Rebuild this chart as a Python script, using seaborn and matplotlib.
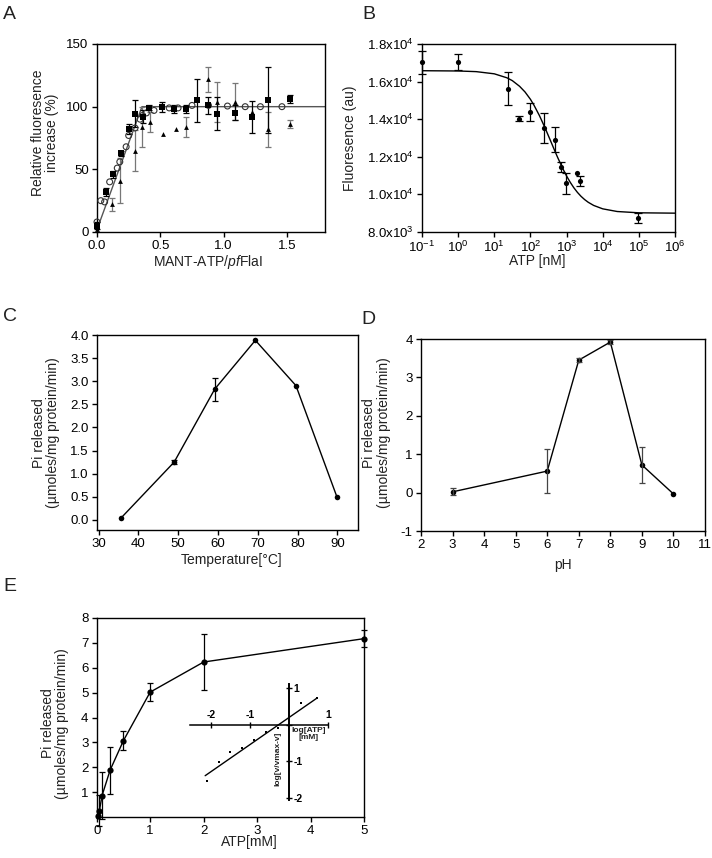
import numpy as np
import seaborn as sns
import matplotlib.pyplot as plt
from matplotlib.ticker import NullLocator

# ---- panel A : MANT-ATP titration (three runs + fit)
a_sq_x = [0.0, 0.07, 0.13, 0.19, 0.25, 0.30, 0.36, 0.41, 0.51, 0.61, 0.70, 0.79, 0.88, 0.95, 1.09, 1.22, 1.35, 1.52]
a_sq_y = [5, 32, 46, 63, 82, 94.5, 92, 99, 99.5, 98.2, 98.2, 105, 101, 94.5, 95.2, 91.8, 105.3, 106]
a_sq_e = [3, 3, 3, 2, 4, 11, 5, 2, 4, 3, 3, 17, 7, 13, 6, 13, 26, 3]

a_tri_x = [0.0, 0.12, 0.18, 0.30, 0.355, 0.42, 0.52, 0.62, 0.70, 0.88, 0.95, 1.09, 1.22, 1.35, 1.52]
a_tri_y = [2, 22, 41, 65, 84, 88, 78.5, 82, 84, 122, 104, 104, 96, 82, 86]
a_tri_e = [0, 5, 18, 16, 16, 8, 0, 0, 8, 10, 16, 15, 0, 14, 3]

a_circ_x = [0.0, 0.03, 0.06, 0.10, 0.16, 0.18, 0.23, 0.25, 0.30, 0.34, 0.36, 0.39, 0.45,
            0.57, 0.64, 0.75, 0.88, 1.03, 1.17, 1.29, 1.46]
a_circ_y = [8, 25, 24, 40, 51, 56, 68, 77, 83, 90, 93, 95, 97, 99, 99, 101, 101, 100.5, 100, 100, 100]

a_fit_x = [0.0, 0.355, 1.8]
a_fit_y = [2, 100, 100]

# ---- panel B : ATP competition
b_x = [0.1, 1, 24, 48, 100, 240, 480, 700, 980, 1900, 2400, 95000]
b_y = [17030, 17060, 15630, 14030, 14400, 13530, 12910, 11460, 10580, 11130, 10690, 8740]
b_e = [600, 430, 900, 140, 480, 800, 670, 250, 560, 0, 265, 280]

b_fit_logx = [-1, 0, 0.5, 1.0, 1.35, 1.5, 1.7, 1.85, 2.0, 2.1, 2.25, 2.4, 2.55, 2.65, 2.75,
              2.9, 3.0, 3.1, 3.2, 3.3, 3.4, 3.5, 3.6, 3.75, 4.0, 4.4, 5.0, 6.0]
b_fit_y = [16579, 16565, 16530, 16414, 16202, 16050, 15750, 15449, 15059, 14738, 14188, 13558,
           12881, 12425, 11978, 11353, 10979, 10648, 10357, 10108, 9898, 9724, 9580, 9413,
           9232, 9090, 9021, 9002]

# ---- panel C : temperature
c_x = [35.6, 49.0, 59.2, 69.4, 79.6, 89.9]
c_y = [0.036, 1.25, 2.83, 3.885, 2.905, 0.497]
c_e = [0.0, 0.05, 0.25, 0.0, 0.0, 0.0]

# ---- panel D : pH
d_x = [3, 6, 7, 8, 9, 10]
d_y = [0.02, 0.56, 3.45, 3.92, 0.72, -0.035]
d_e = [0.09, 0.57, 0.06, 0.06, 0.48, 0.0]

# ---- panel E : ATP kinetics + Hill inset
e_x = [0.025, 0.05, 0.1, 0.25, 0.5, 1, 2, 5]
e_y = [0.05, 0.25, 0.86, 1.88, 3.07, 5.02, 6.23, 7.17]
e_e = [0.0, 0.62, 0.95, 0.95, 0.37, 0.36, 1.14, 0.33]

hill_x = [-2.11, -1.80, -1.51, -1.20, -0.90, -0.59, -0.29, 0.31, 0.72]
hill_y = [-1.53, -1.02, -0.76, -0.65, -0.43, -0.21, -0.10, 0.59, 0.72]
hill_fit_x = [-2.16, 0.72]
hill_fit_y = [-1.39, 0.72]

W, H = 712, 858


def px_box(l, t, r, b):
    return [l / W, 1 - b / H, (r - l) / W, (b - t) / H]


def place_labels(ax, xl, yl, xpos, ypos, size=10):
    ax.set_xlabel(xl, fontsize=size, va='center')
    ax.set_ylabel(yl, fontsize=size, va='center', linespacing=1.05)
    ax.xaxis.set_label_coords(*xpos)
    ax.yaxis.set_label_coords(*ypos)


sns.set_style('ticks')
plt.rcParams['font.family'] = ['Liberation Sans', 'DejaVu Sans']
plt.rcParams.update({
    'mathtext.fontset': 'custom',
    'mathtext.rm': 'Liberation Sans',
    'mathtext.it': 'Liberation Sans:italic',
    'axes.unicode_minus': False,
    'axes.linewidth': 1.0,
    'axes.edgecolor': 'black',
    'xtick.major.size': 3.5, 'ytick.major.size': 3.5,
    'xtick.major.width': 1.0, 'ytick.major.width': 1.0,
    'xtick.color': 'black', 'ytick.color': 'black',
    'xtick.labelsize': 9.5, 'ytick.labelsize': 9.5,
    'xtick.major.pad': 2, 'ytick.major.pad': 2.5,
    'text.color': '#222222', 'axes.labelcolor': '#222222',
})

fig = plt.figure(figsize=(7.12, 8.58), dpi=100)
eb = dict(fmt='none', elinewidth=0.9, capthick=0.9, clip_on=False)

# ================= A
axA = fig.add_axes(px_box(97, 44, 325, 232))
sns.lineplot(x=a_fit_x, y=a_fit_y, color='#555555', lw=1.0, ax=axA)
m = np.array(a_tri_e) > 0
axA.errorbar(np.array(a_tri_x)[m], np.array(a_tri_y)[m], yerr=np.array(a_tri_e)[m],
             ecolor='#777777', capsize=2, **eb)
m = np.array(a_sq_e) > 0
axA.errorbar(np.array(a_sq_x)[m], np.array(a_sq_y)[m], yerr=np.array(a_sq_e)[m],
             ecolor='black', capsize=2, **eb)
sns.scatterplot(x=a_circ_x, y=a_circ_y, marker='o', s=18, facecolor='none',
                edgecolor='#333333', linewidth=0.8, ax=axA, clip_on=False, zorder=3)
sns.scatterplot(x=a_tri_x, y=a_tri_y, marker='^', s=12, color='black',
                linewidth=0, ax=axA, clip_on=False, zorder=4)
sns.scatterplot(x=a_sq_x, y=a_sq_y, marker='s', s=14, color='black',
                linewidth=0, ax=axA, clip_on=False, zorder=4)
axA.set_xlim(0, 1.8)
axA.set_ylim(0, 150)
axA.set_xticks([0.0, 0.5, 1.0, 1.5])
axA.set_xticklabels(['0.0', '0.5', '1.0', '1.5'])
axA.set_yticks([0, 50, 100, 150])
place_labels(axA, r'MANT-ATP/$\mathit{pf}$FlaI', 'Relative fluoresence\nincrease (%)',
             (0.485, -0.16), (-0.228, 0.53))

# ================= B
axB = fig.add_axes(px_box(422, 44, 675, 232))
axB.set_xscale('log')
sns.lineplot(x=10.0 ** np.array(b_fit_logx), y=b_fit_y, color='black', lw=1.0, ax=axB)
m = np.array(b_e) > 0
axB.errorbar(np.array(b_x)[m], np.array(b_y)[m], yerr=np.array(b_e)[m],
             ecolor='black', capsize=3, **eb)
sns.scatterplot(x=b_x, y=b_y, marker='o', s=14, color='black', linewidth=0,
                ax=axB, clip_on=False, zorder=4)
axB.set_xlim(0.1, 1e6)
axB.set_ylim(8000, 18000)
axB.set_xticks([10.0 ** k for k in range(-1, 7)])
axB.set_xticklabels([r'10$^{%d}$' % k for k in range(-1, 7)])
axB.xaxis.set_minor_locator(NullLocator())
axB.set_yticks([8000, 10000, 12000, 14000, 16000, 18000])
axB.set_yticklabels([r'8.0x10$^{3}$', r'1.0x10$^{4}$', r'1.2x10$^{4}$',
                     r'1.4x10$^{4}$', r'1.6x10$^{4}$', r'1.8x10$^{4}$'])
place_labels(axB, 'ATP [nM]', 'Fluoresence (au)', (0.457, -0.155), (-0.285, 0.5))

# ================= C
axC = fig.add_axes(px_box(97, 335, 358, 530))
sns.lineplot(x=c_x, y=c_y, color='black', lw=1.0, marker='o', markersize=4,
             markeredgewidth=0, ax=axC, clip_on=False)
m = np.array(c_e) > 0
axC.errorbar(np.array(c_x)[m], np.array(c_y)[m], yerr=np.array(c_e)[m],
             ecolor='black', capsize=2, **eb)
axC.set_xlim(29.6, 95.2)
axC.set_ylim(-0.22, 4.0)
axC.set_xticks(range(30, 100, 10))
axC.set_yticks(np.arange(0, 4.01, 0.5))
axC.set_yticklabels(['%.1f' % v for v in np.arange(0, 4.01, 0.5)])
pi_label = 'Pi released\n(\u00b5moles/mg protein/min)'
place_labels(axC, 'Temperature[\u00b0C]', pi_label, (0.517, -0.154), (-0.196, 0.497))

# ================= D
axD = fig.add_axes(px_box(421, 339, 705, 531))
sns.lineplot(x=d_x, y=d_y, color='black', lw=1.0, marker='o', markersize=4,
             markeredgewidth=0, ax=axD, clip_on=False)
m = np.array(d_e) > 0
axD.errorbar(np.array(d_x)[m], np.array(d_y)[m], yerr=np.array(d_e)[m],
             ecolor='#444444', capsize=2, **eb)
axD.set_xlim(2, 11)
axD.set_ylim(-1, 4)
axD.set_xticks(range(2, 12))
axD.set_yticks(range(-1, 5))
place_labels(axD, 'pH', pi_label, (0.5, -0.177), (-0.157, 0.51))

# ================= E
axE = fig.add_axes(px_box(96.7, 618, 364, 817))
sns.lineplot(x=e_x, y=e_y, color='black', lw=1.0, marker='o', markersize=4.5,
             markeredgewidth=0, ax=axE, clip_on=False)
m = np.array(e_e) > 0
axE.errorbar(np.array(e_x)[m], np.array(e_y)[m], yerr=np.array(e_e)[m],
             ecolor='black', capsize=2.5, **eb)
axE.set_xlim(0, 5)
axE.set_ylim(0, 8)
axE.set_xticks(range(0, 6))
axE.set_yticks(range(1, 9))
place_labels(axE, 'ATP[mM]', pi_label, (0.57, -0.125), (-0.156, 0.47))

# Hill plot inset, axes crossing at the origin
axI = fig.add_axes(px_box(190, 684, 328, 800))
axI.set_facecolor('none')
sns.lineplot(x=hill_fit_x, y=hill_fit_y, color='black', lw=1.0, ax=axI)
sns.scatterplot(x=hill_x, y=hill_y, marker='s', s=4, color='black', linewidth=0, ax=axI)
axI.set_xlim(-2.55, 1.0)
axI.set_ylim(-2.05, 1.1)
for side in ['left', 'bottom']:
    axI.spines[side].set_visible(False)
axI.spines['top'].set_visible(True)
axI.spines['right'].set_visible(True)
axI.spines['top'].set_position(('data', 0))
axI.spines['right'].set_position(('data', 0))
axI.spines['top'].set_linewidth(1.1)
axI.spines['right'].set_linewidth(1.4)
axI.xaxis.set_ticks_position('top')
axI.yaxis.set_ticks_position('right')
axI.set_xticks([-2, -1, 1])
axI.set_yticks([1, 0, -1, -2])
axI.set_yticklabels(['1', '', '-1', '-2'])
axI.tick_params(direction='inout', length=4, width=1.0, labelsize=7.5, pad=1)
for t in axI.get_xticklabels() + axI.get_yticklabels():
    t.set_fontweight('bold')
axI.text(0.5, -0.27, 'log[ATP]\n[mM]', fontsize=6, ha='center', va='center',
         fontweight='bold', linespacing=1.0)
axI.text(-0.29, -0.93, 'log[v/vmax-v]', fontsize=6, ha='center', va='center',
         rotation=90, fontweight='bold')

# panel letters
for letter, (x, y) in {'A': (3, 6), 'B': (362, 6), 'C': (3, 308),
                       'D': (361, 311), 'E': (3, 578)}.items():
    fig.text(x / W, 1 - y / H, letter, fontsize=14, ha='left', va='top', color='#222222')

plt.savefig('out.png', dpi=100)
